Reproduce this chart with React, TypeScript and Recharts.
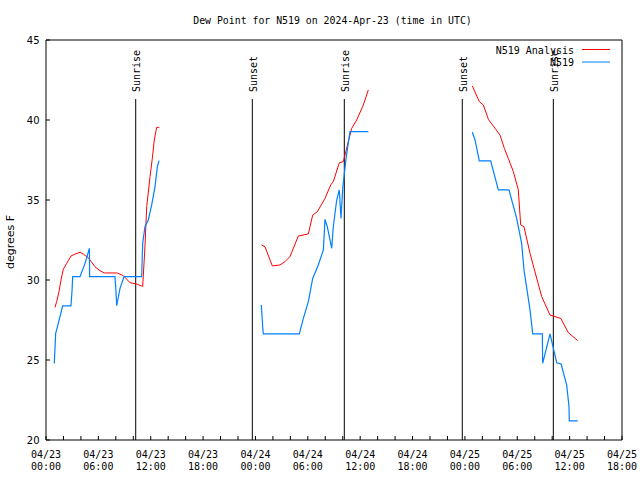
import React from "react";
import {
  LineChart,
  Line,
  XAxis,
  YAxis,
  ReferenceLine,
} from "recharts";

// hours since 04/23 00:00 UTC, dew point in deg F
const analysisDay1 = [
  [1.03, 28.29], [1.22, 28.65], [1.49, 29.27], [1.72, 30.0], [1.98, 30.67],
  [2.37, 31.04], [2.86, 31.5], [3.32, 31.62], [3.9, 31.73], [4.28, 31.62],
  [4.85, 31.39], [5.61, 30.83], [6.19, 30.58], [6.68, 30.44], [8.17, 30.44],
  [8.86, 30.27], [9.63, 29.83], [10.39, 29.75], [10.96, 29.62], [11.08, 29.6],
  [11.34, 32.08], [11.54, 34.58], [11.92, 36.46], [12.18, 37.6], [12.41, 38.75],
  [12.68, 39.54], [12.98, 39.54],
];
const analysisDay2 = [
  [24.71, 32.19], [25.09, 32.08], [25.93, 30.88], [26.81, 30.94], [27.39, 31.15],
  [27.96, 31.46], [28.91, 32.75], [30.06, 32.88], [30.56, 34.06], [31.09, 34.27],
  [31.97, 35.1], [32.62, 35.94], [32.92, 36.15], [33.61, 37.33], [34.07, 37.4],
  [34.64, 38.65], [35.03, 39.48], [35.6, 40.0], [36.36, 40.94], [36.93, 41.88],
];
const analysisDay3 = [
  [48.85, 42.13], [49.65, 41.15], [50.11, 40.94], [50.69, 40.04], [51.45, 39.48],
  [52.02, 39.06], [52.52, 38.23], [52.97, 37.6], [53.55, 36.77], [54.12, 35.63],
  [54.39, 33.44], [54.77, 33.33], [55.46, 31.67], [55.92, 30.73], [56.8, 28.96],
  [57.75, 27.81], [58.98, 27.6], [59.85, 26.71], [60.93, 26.21],
];

const obsDay1 = [
  [0.95, 24.79], [1.03, 25.73], [1.11, 26.67], [1.41, 27.29], [1.91, 28.38],
  [2.86, 28.38], [2.98, 29.31], [3.06, 30.21], [3.9, 30.21], [4.47, 31.04],
  [4.97, 31.98], [5.0, 30.21], [7.9, 30.21], [8.02, 29.27], [8.1, 28.4],
  [8.48, 29.48], [8.94, 30.21], [10.96, 30.21], [11.08, 32.29], [11.34, 33.33],
  [11.72, 33.75], [12.11, 34.69], [12.49, 35.83], [12.76, 37.08], [12.95, 37.46],
];
const obsDay2 = [
  [24.67, 28.44], [24.83, 27.08], [24.9, 26.63], [29.03, 26.63], [29.49, 27.6],
  [30.06, 28.65], [30.56, 30.1], [31.2, 30.94], [31.78, 31.88], [31.97, 33.79],
  [32.23, 33.33], [32.74, 31.98], [32.92, 33.33], [33.31, 35.0], [33.61, 35.63],
  [33.8, 33.85], [34.0, 35.73], [34.38, 37.6], [34.83, 39.27], [36.93, 39.27],
];
const obsDay3 = [
  [48.85, 39.23], [49.16, 38.75], [49.65, 37.44], [50.95, 37.44], [51.83, 35.63],
  [53.05, 35.63], [53.93, 33.85], [54.5, 32.29], [54.77, 30.63], [55.46, 28.13],
  [55.77, 26.63], [56.87, 26.63], [56.91, 24.79], [57.75, 26.63], [58.52, 24.83],
  [59.02, 24.75], [59.66, 23.44], [59.93, 22.08], [59.96, 21.19], [60.93, 21.19],
];

const sunEvents = [
  { h: 10.28, name: "Sunrise" },
  { h: 23.64, name: "Sunset" },
  { h: 34.18, name: "Sunrise" },
  { h: 47.7, name: "Sunset" },
  { h: 58.13, name: "Sunrise" },
];

const dayLabels = ["04/23", "04/24", "04/25"];
const xTicks = [
  0, 2, 4, 6, 8, 10, 12, 14, 16, 18, 20, 22, 24, 26, 28, 30, 32,
  34, 36, 38, 40, 42, 44, 46, 48, 50, 52, 54, 56, 58, 60, 62, 64, 66,
];
const yTicks = [20, 25, 30, 35, 40, 45];

const legendItems = [
  { name: "N519 Analysis", color: "#ff0000" },
  { name: "N519", color: "#0080ff" },
];

const mono = "'DejaVu Sans Mono', monospace";
const sans = "'DejaVu Sans', sans-serif";

// null row between days breaks the line
const toRows = (...segs: number[][][]) => {
  const rows: { h: number; v: number | null }[] = [];
  segs.forEach((seg, i) => {
    if (i > 0) rows.push({ h: seg[0][0] - 1, v: null });
    seg.forEach(([h, v]) => rows.push({ h, v }));
  });
  return rows;
};

const analysisData = toRows(analysisDay1, analysisDay2, analysisDay3);
const obsData = toRows(obsDay1, obsDay2, obsDay3);

function TimeTick(props: any) {
  const { x, y, payload } = props;
  const h = payload.value;
  if (h % 6 !== 0) return <g />;
  const day = dayLabels[Math.floor(h / 24)];
  const hh = String(h % 24).padStart(2, "0") + ":00";
  return (
    <g fontFamily={mono} fontSize={10} fill="#000">
      <text x={x} y={y + 17.5} textAnchor="middle">{day}</text>
      <text x={x} y={y + 30} textAnchor="middle">{hh}</text>
    </g>
  );
}

function SunLabel(props: any) {
  const { viewBox, text } = props;
  if (!viewBox) return null;
  const x = viewBox.x + 1;
  const y = viewBox.y - 7;
  return (
    <text
      x={x}
      y={y}
      transform={`rotate(-90, ${x}, ${y})`}
      dominantBaseline="central"
      fontFamily={mono}
      fontSize={10}
      fill="#000"
    >
      {text}
    </text>
  );
}

function DegLabel() {
  return (
    <text
      x={10}
      y={242}
      transform="rotate(-90, 10, 242)"
      textAnchor="middle"
      dominantBaseline="central"
      fontFamily={sans}
      fontSize={11}
      fill="#000"
    >
      degrees F
    </text>
  );
}

export default function App() {
  return (
    <div style={{ position: "absolute", left: 0, top: 0, width: 640, height: 480, background: "#fff" }}>
      <div
        style={{
          position: "absolute", left: 0, top: 14, width: 665, textAlign: "center",
          fontFamily: mono, fontSize: 9.85, lineHeight: "14px",
        }}
      >
        Dew Point for N519 on 2024-Apr-23 (time in UTC)
      </div>
      <LineChart width={640} height={480} margin={{ top: 39, right: 17, bottom: 0, left: 0 }}>
        <XAxis
          dataKey="h"
          type="number"
          domain={[0, 66]}
          ticks={xTicks}
          interval={0}
          height={40}
          stroke="#000"
          tickSize={-4}
          tickMargin={4}
          tick={<TimeTick />}
        />
        <XAxis
          xAxisId="top"
          dataKey="h"
          orientation="top"
          type="number"
          domain={[0, 66]}
          ticks={xTicks}
          interval={0}
          height={1}
          stroke="#000"
          tickSize={-4}
          tick={false}
        />
        <YAxis
          type="number"
          domain={[20, 45]}
          ticks={yTicks}
          interval={0}
          width={46}
          stroke="#000"
          tickSize={-4}
          tickMargin={10.5}
          tick={{ fontFamily: sans, fontSize: 10, fill: "#000" }}
          label={<DegLabel />}
        />
        <YAxis
          yAxisId="right"
          orientation="right"
          type="number"
          domain={[20, 45]}
          ticks={yTicks}
          interval={0}
          width={1}
          stroke="#000"
          tickSize={-4}
          tick={false}
        />
        {sunEvents.map((s, i) => (
          <ReferenceLine
            key={i}
            segment={[{ x: s.h, y: 20 }, { x: s.h, y: 41.31 }]}
            stroke="#000"
            strokeWidth={1}
            label={<SunLabel text={s.name} />}
          />
        ))}
        {/* invisible copy so the mirror axes (top/right) get drawn */}
        <Line
          xAxisId="top"
          yAxisId="right"
          data={obsData}
          dataKey="v"
          stroke="none"
          dot={false}
          legendType="none"
          isAnimationActive={false}
        />
        <Line
          data={analysisData}
          dataKey="v"
          type="linear"
          stroke="#ff0000"
          strokeWidth={1}
          dot={false}
          isAnimationActive={false}
        />
        <Line
          data={obsData}
          dataKey="v"
          type="linear"
          stroke="#0080ff"
          strokeWidth={1.2}
          dot={false}
          isAnimationActive={false}
        />
      </LineChart>
      <svg style={{ position: "absolute", left: 0, top: 0 }} width={640} height={480} pointerEvents="none">
        {legendItems.map((l, i) => (
          <g key={l.name}>
            <text
              x={574}
              y={50 + i * 12.5}
              textAnchor="end"
              dominantBaseline="central"
              fontFamily={mono}
              fontSize={10}
              fill="#000"
            >
              {l.name}
            </text>
            <line x1={582} x2={610} y1={49.5 + i * 12.5} y2={49.5 + i * 12.5} stroke={l.color} strokeWidth={1} />
          </g>
        ))}
      </svg>
    </div>
  );
}
